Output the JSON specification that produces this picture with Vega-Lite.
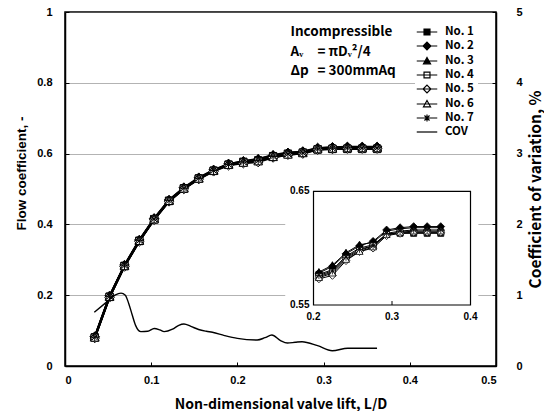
{
  "$schema": "https://vega.github.io/schema/vega-lite/v6.json",
  "width": 431,
  "height": 354,
  "padding": {"left": 14, "top": 6, "right": 0, "bottom": 0},
  "background": "white",
  "config": {
    "view": {"stroke": "black", "strokeWidth": 1.5},
    "axis": {"labelFont": "Liberation Sans", "labelFontWeight": "bold", "labelFontSize": 11, "labelColor": "black", "domainColor": "black", "domainWidth": 1.5, "tickColor": "black", "tickSize": -4, "tickWidth": 1, "titleColor": "black", "titleFontWeight": "bold", "grid": false},
    "legend": {"title": null, "fillColor": "white", "padding": 4, "symbolSize": 200, "rowPadding": 0, "labelFont": "Noto Sans CJK KR", "labelFontWeight": "bold", "labelFontSize": 11.5, "labelColor": "black", "labelOffset": 10, "symbolStrokeColor": "black", "symbolFillColor": "white", "symbolStrokeWidth": 1.2, "symbolOpacity": 1}
  },
  "datasets": {
    "flow": [
      {"s":"No. 1","x":0.0345,"y":0.081},{"s":"No. 1","x":0.0517,"y":0.196},{"s":"No. 1","x":0.069,"y":0.283},{"s":"No. 1","x":0.0862,"y":0.354},{"s":"No. 1","x":0.1034,"y":0.415},{"s":"No. 1","x":0.1207,"y":0.467},{"s":"No. 1","x":0.1379,"y":0.502},{"s":"No. 1","x":0.1552,"y":0.530},{"s":"No. 1","x":0.1724,"y":0.552},{"s":"No. 1","x":0.1897,"y":0.569},{"s":"No. 1","x":0.2069,"y":0.577},{"s":"No. 1","x":0.2241,"y":0.581},{"s":"No. 1","x":0.2414,"y":0.593},{"s":"No. 1","x":0.2586,"y":0.600},{"s":"No. 1","x":0.2759,"y":0.603},{"s":"No. 1","x":0.2931,"y":0.612},{"s":"No. 1","x":0.3103,"y":0.613},{"s":"No. 1","x":0.3276,"y":0.613},{"s":"No. 1","x":0.3448,"y":0.613},{"s":"No. 1","x":0.3621,"y":0.613},
      {"s":"No. 2","x":0.0345,"y":0.083},{"s":"No. 2","x":0.0517,"y":0.198},{"s":"No. 2","x":0.069,"y":0.285},{"s":"No. 2","x":0.0862,"y":0.356},{"s":"No. 2","x":0.1034,"y":0.417},{"s":"No. 2","x":0.1207,"y":0.469},{"s":"No. 2","x":0.1379,"y":0.504},{"s":"No. 2","x":0.1552,"y":0.532},{"s":"No. 2","x":0.1724,"y":0.554},{"s":"No. 2","x":0.1897,"y":0.571},{"s":"No. 2","x":0.2069,"y":0.578},{"s":"No. 2","x":0.2241,"y":0.584},{"s":"No. 2","x":0.2414,"y":0.595},{"s":"No. 2","x":0.2586,"y":0.602},{"s":"No. 2","x":0.2759,"y":0.606},{"s":"No. 2","x":0.2931,"y":0.616},{"s":"No. 2","x":0.3103,"y":0.618},{"s":"No. 2","x":0.3276,"y":0.619},{"s":"No. 2","x":0.3448,"y":0.619},{"s":"No. 2","x":0.3621,"y":0.619},
      {"s":"No. 3","x":0.0345,"y":0.082},{"s":"No. 3","x":0.0517,"y":0.197},{"s":"No. 3","x":0.069,"y":0.284},{"s":"No. 3","x":0.0862,"y":0.355},{"s":"No. 3","x":0.1034,"y":0.416},{"s":"No. 3","x":0.1207,"y":0.468},{"s":"No. 3","x":0.1379,"y":0.503},{"s":"No. 3","x":0.1552,"y":0.531},{"s":"No. 3","x":0.1724,"y":0.553},{"s":"No. 3","x":0.1897,"y":0.570},{"s":"No. 3","x":0.2069,"y":0.579},{"s":"No. 3","x":0.2241,"y":0.585},{"s":"No. 3","x":0.2414,"y":0.596},{"s":"No. 3","x":0.2586,"y":0.603},{"s":"No. 3","x":0.2759,"y":0.605},{"s":"No. 3","x":0.2931,"y":0.615},{"s":"No. 3","x":0.3103,"y":0.617},{"s":"No. 3","x":0.3276,"y":0.618},{"s":"No. 3","x":0.3448,"y":0.618},{"s":"No. 3","x":0.3621,"y":0.618},
      {"s":"No. 4","x":0.0345,"y":0.080},{"s":"No. 4","x":0.0517,"y":0.195},{"s":"No. 4","x":0.069,"y":0.282},{"s":"No. 4","x":0.0862,"y":0.353},{"s":"No. 4","x":0.1034,"y":0.414},{"s":"No. 4","x":0.1207,"y":0.466},{"s":"No. 4","x":0.1379,"y":0.501},{"s":"No. 4","x":0.1552,"y":0.529},{"s":"No. 4","x":0.1724,"y":0.551},{"s":"No. 4","x":0.1897,"y":0.568},{"s":"No. 4","x":0.2069,"y":0.575},{"s":"No. 4","x":0.2241,"y":0.579},{"s":"No. 4","x":0.2414,"y":0.591},{"s":"No. 4","x":0.2586,"y":0.598},{"s":"No. 4","x":0.2759,"y":0.602},{"s":"No. 4","x":0.2931,"y":0.612},{"s":"No. 4","x":0.3103,"y":0.614},{"s":"No. 4","x":0.3276,"y":0.614},{"s":"No. 4","x":0.3448,"y":0.614},{"s":"No. 4","x":0.3621,"y":0.614},
      {"s":"No. 5","x":0.0345,"y":0.079},{"s":"No. 5","x":0.0517,"y":0.194},{"s":"No. 5","x":0.069,"y":0.281},{"s":"No. 5","x":0.0862,"y":0.352},{"s":"No. 5","x":0.1034,"y":0.413},{"s":"No. 5","x":0.1207,"y":0.465},{"s":"No. 5","x":0.1379,"y":0.500},{"s":"No. 5","x":0.1552,"y":0.528},{"s":"No. 5","x":0.1724,"y":0.550},{"s":"No. 5","x":0.1897,"y":0.567},{"s":"No. 5","x":0.2069,"y":0.573},{"s":"No. 5","x":0.2241,"y":0.576},{"s":"No. 5","x":0.2414,"y":0.589},{"s":"No. 5","x":0.2586,"y":0.597},{"s":"No. 5","x":0.2759,"y":0.600},{"s":"No. 5","x":0.2931,"y":0.611},{"s":"No. 5","x":0.3103,"y":0.613},{"s":"No. 5","x":0.3276,"y":0.614},{"s":"No. 5","x":0.3448,"y":0.614},{"s":"No. 5","x":0.3621,"y":0.614},
      {"s":"No. 6","x":0.0345,"y":0.080},{"s":"No. 6","x":0.0517,"y":0.195},{"s":"No. 6","x":0.069,"y":0.282},{"s":"No. 6","x":0.0862,"y":0.353},{"s":"No. 6","x":0.1034,"y":0.414},{"s":"No. 6","x":0.1207,"y":0.466},{"s":"No. 6","x":0.1379,"y":0.501},{"s":"No. 6","x":0.1552,"y":0.529},{"s":"No. 6","x":0.1724,"y":0.551},{"s":"No. 6","x":0.1897,"y":0.568},{"s":"No. 6","x":0.2069,"y":0.574},{"s":"No. 6","x":0.2241,"y":0.578},{"s":"No. 6","x":0.2414,"y":0.590},{"s":"No. 6","x":0.2586,"y":0.597},{"s":"No. 6","x":0.2759,"y":0.601},{"s":"No. 6","x":0.2931,"y":0.612},{"s":"No. 6","x":0.3103,"y":0.614},{"s":"No. 6","x":0.3276,"y":0.615},{"s":"No. 6","x":0.3448,"y":0.615},{"s":"No. 6","x":0.3621,"y":0.615},
      {"s":"No. 7","x":0.0345,"y":0.081},{"s":"No. 7","x":0.0517,"y":0.196},{"s":"No. 7","x":0.069,"y":0.283},{"s":"No. 7","x":0.0862,"y":0.354},{"s":"No. 7","x":0.1034,"y":0.415},{"s":"No. 7","x":0.1207,"y":0.467},{"s":"No. 7","x":0.1379,"y":0.502},{"s":"No. 7","x":0.1552,"y":0.530},{"s":"No. 7","x":0.1724,"y":0.552},{"s":"No. 7","x":0.1897,"y":0.569},{"s":"No. 7","x":0.2069,"y":0.576},{"s":"No. 7","x":0.2241,"y":0.580},{"s":"No. 7","x":0.2414,"y":0.592},{"s":"No. 7","x":0.2586,"y":0.599},{"s":"No. 7","x":0.2759,"y":0.602},{"s":"No. 7","x":0.2931,"y":0.613},{"s":"No. 7","x":0.3103,"y":0.615},{"s":"No. 7","x":0.3276,"y":0.616},{"s":"No. 7","x":0.3448,"y":0.616},{"s":"No. 7","x":0.3621,"y":0.616}
    ],
    "cov": [
      {"x":0.034,"cov":0.76},{"x":0.049,"cov":0.91},{"x":0.058,"cov":1.0},{"x":0.065,"cov":1.03},{"x":0.070,"cov":1.0},{"x":0.074,"cov":0.88},{"x":0.078,"cov":0.72},{"x":0.082,"cov":0.57},{"x":0.088,"cov":0.485},{"x":0.096,"cov":0.49},{"x":0.1035,"cov":0.53},{"x":0.110,"cov":0.51},{"x":0.115,"cov":0.485},{"x":0.1247,"cov":0.52},{"x":0.132,"cov":0.575},{"x":0.138,"cov":0.593},{"x":0.146,"cov":0.56},{"x":0.155,"cov":0.515},{"x":0.164,"cov":0.49},{"x":0.171,"cov":0.476},{"x":0.185,"cov":0.43},{"x":0.2,"cov":0.39},{"x":0.223,"cov":0.367},{"x":0.232,"cov":0.40},{"x":0.24,"cov":0.438},{"x":0.25,"cov":0.36},{"x":0.258,"cov":0.325},{"x":0.267,"cov":0.335},{"x":0.275,"cov":0.343},{"x":0.293,"cov":0.287},{"x":0.31,"cov":0.216},{"x":0.328,"cov":0.25},{"x":0.351,"cov":0.25},{"x":0.362,"cov":0.25}
    ],
    "ix": [{"t":0.2},{"t":0.3},{"t":0.4}],
    "iy": [{"t":0.55},{"t":0.65}]
  },
  "resolve": {"scale": {"x": "independent", "y": "independent", "shape": "independent", "fill": "independent"}},
  "layer": [
    {
      "data": {"name": "flow"},
      "mark": {"type": "line", "color": "black", "strokeWidth": 2},
      "encoding": {
        "x": {"field": "x", "type": "quantitative", "scale": {"domain": [0, 0.5], "nice": false},
              "axis": {"values": [0, 0.1, 0.2, 0.3, 0.4, 0.5], "format": "~g", "labelPadding": 12, "title": "Non-dimensional valve lift, L/D", "titleFont": "Noto Sans CJK KR", "titleFontSize": 14, "titlePadding": 12}},
        "y": {"field": "y", "type": "quantitative", "scale": {"domain": [0, 1], "nice": false},
              "axis": {"values": [0, 0.2, 0.4, 0.6, 0.8, 1], "format": "~g", "labelPadding": 17, "grid": true, "gridColor": "#666", "gridDash": [1, 1], "title": "Flow coefficient, -", "titleFont": "Liberation Sans", "titleFontSize": 13.5, "titlePadding": 8, "titleY": 161}},
        "detail": {"field": "s"}
      }
    },
    {
      "data": {"name": "flow"},
      "mark": {"type": "point", "filled": true, "size": 300, "stroke": "black", "strokeWidth": 1, "opacity": 1},
      "encoding": {
        "x": {"field": "x", "type": "quantitative", "scale": {"domain": [0, 0.5], "nice": false}, "axis": null},
        "y": {"field": "y", "type": "quantitative", "scale": {"domain": [0, 1], "nice": false}, "axis": null},
        "shape": {"field": "s", "type": "nominal", "legend": null,
          "scale": {"domain": ["No. 1", "No. 2", "No. 3", "No. 4", "No. 5", "No. 6", "No. 7", "COV"],
                    "range": ["M-0.42,-0.42H0.42V0.42H-0.42Z", "M0,-0.55L0.55,0L0,0.55L-0.55,0Z", "M0,-0.5L0.5,0.4H-0.5Z", "M-0.42,-0.42H0.42V0.42H-0.42Z", "M0,-0.55L0.55,0L0,0.55L-0.55,0Z", "M0,-0.5L0.5,0.4H-0.5Z", "M-0.5,0H0.5M0,-0.5V0.5M-0.36,-0.36L0.36,0.36M-0.36,0.36L0.36,-0.36", "M0,0"]}},
        "fill": {"field": "s", "type": "nominal", "legend": null,
          "scale": {"domain": ["No. 1", "No. 2", "No. 3", "No. 4", "No. 5", "No. 6", "No. 7", "COV"],
                    "range": ["black", "black", "black", "white", "white", "white", "black", "black"]}}
      }
    },
    {
      "data": {"name": "flow"},
      "transform": [{"filter": "datum.x < 0"}],
      "mark": {"type": "point", "filled": true, "size": 200, "stroke": "black", "strokeWidth": 1.2},
      "encoding": {
        "x": {"field": "x", "type": "quantitative", "scale": {"domain": [0, 0.5], "nice": false}, "axis": null},
        "y": {"field": "y", "type": "quantitative", "scale": {"domain": [0, 1], "nice": false}, "axis": null},
        "shape": {"field": "s", "type": "nominal",
          "scale": {"domain": ["No. 1", "No. 2", "No. 3", "No. 4", "No. 5", "No. 6", "No. 7", "COV"],
                    "range": ["M-1.45,0H1.45M-0.42,-0.42H0.42V0.42H-0.42Z", "M-1.45,0H1.45M0,-0.55L0.55,0L0,0.55L-0.55,0Z", "M-1.45,0H1.45M0,-0.5L0.5,0.4H-0.5Z", "M-1.45,0H1.45M-0.42,-0.42H0.42V0.42H-0.42Z", "M-1.45,0H1.45M0,-0.55L0.55,0L0,0.55L-0.55,0Z", "M-1.45,0H1.45M0,-0.5L0.5,0.4H-0.5Z", "M-1.45,0H1.45M0,-0.5V0.5M-0.36,-0.36L0.36,0.36M-0.36,0.36L0.36,-0.36", "M-1.45,0H1.45"]},
          "legend": {"orient": "none", "legendX": 350, "legendY": 8}},
        "fill": {"field": "s", "type": "nominal",
          "scale": {"domain": ["No. 1", "No. 2", "No. 3", "No. 4", "No. 5", "No. 6", "No. 7", "COV"],
                    "range": ["black", "black", "black", "white", "white", "white", "black", "black"]},
          "legend": {"orient": "none", "legendX": 350, "legendY": 8}}
      }
    },
    {
      "data": {"name": "cov"},
      "mark": {"type": "line", "color": "black", "strokeWidth": 1.4, "interpolate": "monotone"},
      "encoding": {
        "x": {"field": "x", "type": "quantitative", "scale": {"domain": [0, 0.5], "nice": false}, "axis": null},
        "y": {"field": "cov", "type": "quantitative", "scale": {"domain": [0, 5], "nice": false},
              "axis": {"orient": "right", "values": [0, 1, 2, 3, 4, 5], "format": "d", "labelPadding": 24, "title": "Coefficient of variation, %", "titleFont": "Noto Sans CJK KR", "titleFontSize": 15.5, "titleAngle": 270, "titleBaseline": "top", "titlePadding": 6}}
      }
    },
    {
      "data": {"values": [{}]},
      "mark": {"type": "text", "align": "left", "baseline": "alphabetic", "font": "Noto Sans CJK KR", "fontWeight": "bold", "fontSize": 13.5, "color": "black"},
      "encoding": {
        "x": {"datum": 0.2616, "type": "quantitative", "scale": {"domain": [0, 0.5], "nice": false}, "axis": null},
        "y": {"datum": 0.9322, "type": "quantitative", "scale": {"domain": [0, 1], "nice": false}, "axis": null},
        "text": {"value": "Incompressible"}
      }
    },
    {
      "data": {"values": [{}]},
      "mark": {"type": "text", "align": "left", "baseline": "alphabetic", "font": "Noto Sans CJK KR", "fontWeight": "bold", "fontSize": 13.5, "lineHeight": 19, "color": "black"},
      "encoding": {
        "x": {"datum": 0.2616, "type": "quantitative", "scale": {"domain": [0, 0.5], "nice": false}, "axis": null},
        "y": {"datum": 0.8757, "type": "quantitative", "scale": {"domain": [0, 1], "nice": false}, "axis": null},
        "text": {"value": ["Aᵥ", "Δp"]}
      }
    },
    {
      "data": {"values": [{}]},
      "mark": {"type": "text", "align": "left", "baseline": "alphabetic", "font": "Noto Sans CJK KR", "fontWeight": "bold", "fontSize": 13.5, "lineHeight": 19, "color": "black"},
      "encoding": {
        "x": {"datum": 0.2929, "type": "quantitative", "scale": {"domain": [0, 0.5], "nice": false}, "axis": null},
        "y": {"datum": 0.8757, "type": "quantitative", "scale": {"domain": [0, 1], "nice": false}, "axis": null},
        "text": {"value": ["= πDᵥ²/4", "= 300mmAq"]}
      }
    },
    {
      "data": {"values": [{}]},
      "mark": {"type": "rect", "fill": "white", "stroke": null},
      "encoding": {
        "x": {"datum": 0.164, "type": "quantitative", "scale": {"domain": [-0.11656, 0.43248], "nice": false, "zero": false}, "axis": null},
        "x2": {"datum": 0.41},
        "y": {"datum": 0.533, "type": "quantitative", "scale": {"domain": [0.49635, 0.8077], "nice": false, "zero": false}, "axis": null},
        "y2": {"datum": 0.658}
      }
    },
    {
      "data": {"values": [{}]},
      "mark": {"type": "rect", "fill": "white", "stroke": "black", "strokeWidth": 1.2},
      "encoding": {
        "x": {"datum": 0.2, "type": "quantitative", "scale": {"domain": [-0.11656, 0.43248], "nice": false, "zero": false}, "axis": null},
        "x2": {"datum": 0.4},
        "y": {"datum": 0.55, "type": "quantitative", "scale": {"domain": [0.49635, 0.8077], "nice": false, "zero": false}, "axis": null},
        "y2": {"datum": 0.65}
      }
    },
    {
      "data": {"values": [{}]},
      "mark": {"type": "rule", "color": "black", "strokeWidth": 1},
      "encoding": {
        "x": {"datum": 0.3, "type": "quantitative", "scale": {"domain": [-0.11656, 0.43248], "nice": false, "zero": false}, "axis": null},
        "y": {"datum": 0.55, "type": "quantitative", "scale": {"domain": [0.49635, 0.8077], "nice": false, "zero": false}, "axis": null},
        "y2": {"datum": 0.5535}
      }
    },
    {
      "data": {"name": "ix"},
      "mark": {"type": "text", "align": "center", "baseline": "middle", "dy": 12, "font": "Liberation Sans", "fontWeight": "bold", "fontSize": 10, "color": "black"},
      "encoding": {
        "x": {"field": "t", "type": "quantitative", "scale": {"domain": [-0.11656, 0.43248], "nice": false, "zero": false}, "axis": null},
        "y": {"datum": 0.55, "type": "quantitative", "scale": {"domain": [0.49635, 0.8077], "nice": false, "zero": false}, "axis": null},
        "text": {"field": "t", "type": "quantitative", "format": ".1f"}
      }
    },
    {
      "data": {"name": "iy"},
      "mark": {"type": "text", "align": "right", "baseline": "middle", "dx": -4, "font": "Liberation Sans", "fontWeight": "bold", "fontSize": 10, "color": "black"},
      "encoding": {
        "x": {"datum": 0.2, "type": "quantitative", "scale": {"domain": [-0.11656, 0.43248], "nice": false, "zero": false}, "axis": null},
        "y": {"field": "t", "type": "quantitative", "scale": {"domain": [0.49635, 0.8077], "nice": false, "zero": false}, "axis": null},
        "text": {"field": "t", "type": "quantitative", "format": ".2f"}
      }
    },
    {
      "data": {"name": "flow"},
      "transform": [{"filter": "datum.x > 0.2"}],
      "mark": {"type": "line", "color": "black", "strokeWidth": 1},
      "encoding": {
        "x": {"field": "x", "type": "quantitative", "scale": {"domain": [-0.11656, 0.43248], "nice": false, "zero": false}, "axis": null},
        "y": {"field": "y", "type": "quantitative", "scale": {"domain": [0.49635, 0.8077], "nice": false, "zero": false}, "axis": null},
        "detail": {"field": "s"}
      }
    },
    {
      "data": {"name": "flow"},
      "transform": [{"filter": "datum.x > 0.2"}],
      "mark": {"type": "point", "filled": true, "size": 200, "stroke": "black", "strokeWidth": 0.8, "opacity": 1},
      "encoding": {
        "x": {"field": "x", "type": "quantitative", "scale": {"domain": [-0.11656, 0.43248], "nice": false, "zero": false}, "axis": null},
        "y": {"field": "y", "type": "quantitative", "scale": {"domain": [0.49635, 0.8077], "nice": false, "zero": false}, "axis": null},
        "shape": {"field": "s", "type": "nominal", "legend": null,
          "scale": {"domain": ["No. 1", "No. 2", "No. 3", "No. 4", "No. 5", "No. 6", "No. 7", "COV"],
                    "range": ["M-0.42,-0.42H0.42V0.42H-0.42Z", "M0,-0.55L0.55,0L0,0.55L-0.55,0Z", "M0,-0.5L0.5,0.4H-0.5Z", "M-0.42,-0.42H0.42V0.42H-0.42Z", "M0,-0.55L0.55,0L0,0.55L-0.55,0Z", "M0,-0.5L0.5,0.4H-0.5Z", "M-0.5,0H0.5M0,-0.5V0.5M-0.36,-0.36L0.36,0.36M-0.36,0.36L0.36,-0.36", "M0,0"]}},
        "fill": {"field": "s", "type": "nominal", "legend": null,
          "scale": {"domain": ["No. 1", "No. 2", "No. 3", "No. 4", "No. 5", "No. 6", "No. 7", "COV"],
                    "range": ["black", "black", "black", "white", "white", "white", "black", "black"]}}
      }
    }
  ]
}
